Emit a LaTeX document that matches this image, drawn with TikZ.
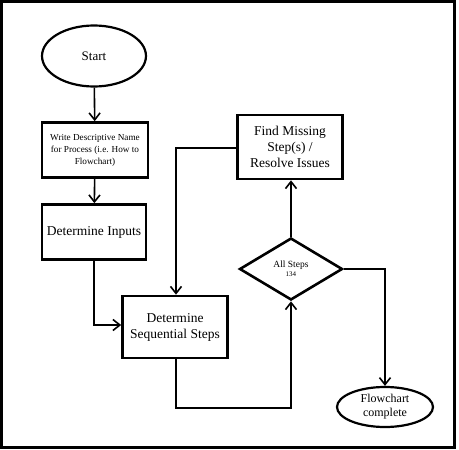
\documentclass[tikz,border=0pt]{standalone}
\usepackage{fontspec}
\setmainfont{Liberation Serif}
\usetikzlibrary{shapes.geometric,arrows.meta}
\tikzset{
  procbox/.style={draw, line width=2.6pt, minimum width=104pt, align=center},
  termnode/.style={draw, ellipse, line width=2.2pt, align=center},
  decnode/.style={draw, diamond, aspect=1.66, line width=2.6pt, inner sep=0pt,
                  minimum width=103pt, minimum height=62pt, align=center},
  flow/.style={line width=1.6pt, -{Straight Barb[length=7pt,width=11pt,line width=1.6pt]}},
  flowline/.style={line width=1.6pt}
}
\begin{document}
\begin{tikzpicture}[x=1pt, y=-1pt]
    \useasboundingbox (0,0) rectangle (459,450);
    % outer frame
    \draw[line width=3pt] (1.5,1.5) rectangle (454.5,447.5);
    % nodes
    \node[termnode, minimum width=104pt, minimum height=61pt, font=\fontsize{13}{15}\selectfont] (start) at (94,56) {Start};
    \node[procbox, minimum width=106pt, minimum height=55pt, font=\fontsize{9.2}{12}\selectfont] (name) at (95,150)
      {Write Descriptive Name\\for Process (i.e. How to\\Flowchart)};
    \node[procbox, minimum height=55pt, font=\fontsize{13.5}{15}\selectfont] (inputs) at (94,232) {Determine Inputs};
    \node[procbox, minimum width=105pt, minimum height=62pt, font=\fontsize{13.5}{16}\selectfont] (steps) at (175,327)
      {Determine\\Sequential Steps};
    \node[procbox, minimum width=105pt, minimum height=64pt, font=\fontsize{13.5}{16}\selectfont] (missing) at (290,147)
      {Find Missing\\Step(s) /\\Resolve Issues};
    \node[decnode, font=\fontsize{9.5}{10}\selectfont] (check) at (291,269) {All Steps\\[-1pt]{\fontsize{7}{8}\selectfont 134}};
    \node[termnode, minimum width=96pt, minimum height=40pt, inner sep=1pt, font=\fontsize{12}{14}\selectfont] (done) at (385,407)
      {Flowchart\\complete};
    % corners of the connectors
    \coordinate (c1) at (94,325);
    \coordinate (c2) at (176,148);
    \coordinate (c3) at (176,408);
    \coordinate (c4) at (291,408);
    \coordinate (c5) at (385,269);
    % connectors
    \draw[flow] (start) -- (name);
    \draw[flow] (name) -- (inputs);
    \draw[flow] (inputs.south) -- (c1) -- (steps.west |- c1);
    \draw[flow] (missing.west |- c2) -- (c2) -- (steps.north -| c2);
    \draw[flow] (steps.south -| c3) -- (c3) -- (c4) -- (check.south);
    \draw[flow] (check.north) -- (missing.south -| check.north);
    \draw[flow] (check.east) -- (c5) -- (done.north);
  \end{tikzpicture}
\end{document}
